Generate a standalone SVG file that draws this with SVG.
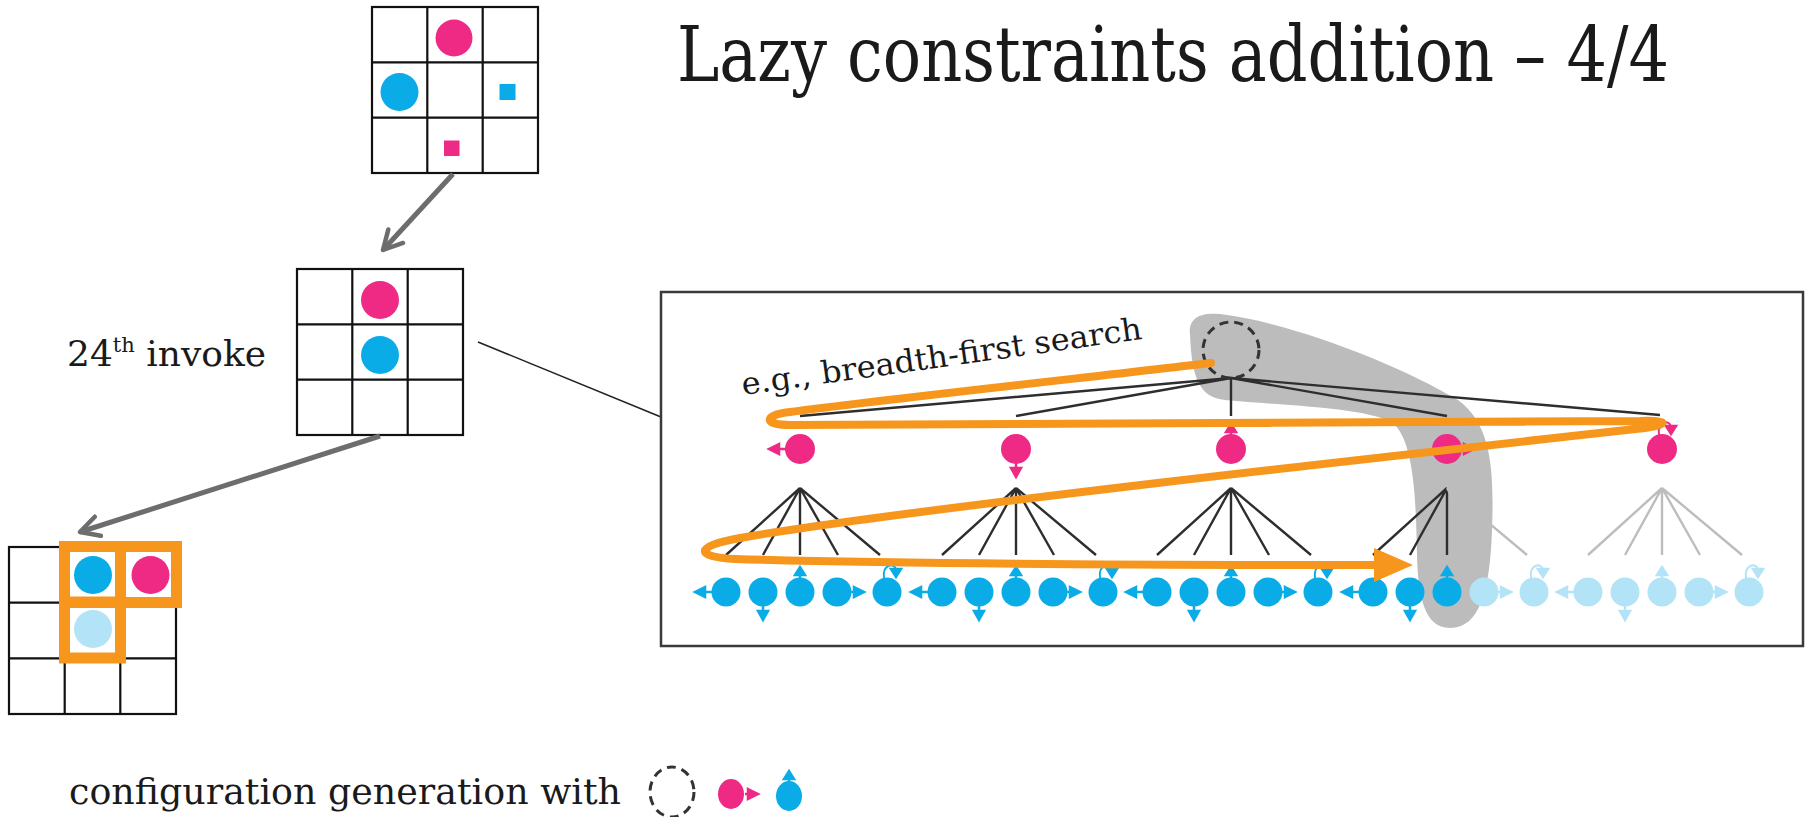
<svg xmlns="http://www.w3.org/2000/svg" xmlns:xlink="http://www.w3.org/1999/xlink" width="1807" height="817" viewBox="0 0 1807 817">
<style>
.txt{font-family:"DejaVu Serif","Liberation Serif",serif;fill:#1a1a1a}
.ttl{font-family:"DejaVu Serif Condensed","DejaVu Serif","Liberation Serif",serif;fill:#1a1a1a}
.grid{fill:none;stroke:#111;stroke-width:2.2}
.pk{fill:#ee2a84}
.bl{fill:#0aace8}
.lb{fill:#b3e3f6}
.pka{fill:#ee2a84;stroke:#ee2a84;stroke-width:2.5}
.bla{fill:#0aace8;stroke:#0aace8;stroke-width:2.5}
.lba{fill:#b3e3f6;stroke:#b3e3f6;stroke-width:2.5}
.edge{stroke:#2e2e2e;stroke-width:2.4;fill:none}
.edgel{stroke:#bdbdbd;stroke-width:2.4;fill:none}
.dash{fill:none;stroke:#333;stroke-width:3;stroke-dasharray:9 6}
.orng{fill:none;stroke:#f7961c;stroke-width:8;stroke-linecap:round;stroke-linejoin:round}
.sel{fill:none;stroke:#f7961c;stroke-width:11}
.garrow{stroke:#6d6d6d;stroke-width:5;fill:none;marker-end:url(#chev)}
</style>
<defs>
<marker id="chev" viewBox="0 0 10 10" refX="8.5" refY="5" markerWidth="5" markerHeight="5" orient="auto" markerUnits="strokeWidth">
<path d="M1 1L8.5 5L1 9" fill="none" stroke="#6d6d6d" stroke-width="1.8" stroke-linecap="round" stroke-linejoin="round"/>
</marker>
<g id="aL"><path d="M-14 0H-22"/><path d="M-21 -5L-31 0L-21 5Z"/></g>
<g id="aD"><path d="M0 14V20"/><path d="M-5 19L5 19L0 28Z"/></g>
<g id="aU"><path d="M0 -14V-17"/><path d="M-5 -17L5 -17L0 -25Z"/></g>
<g id="aR"><path d="M14 0H18"/><path d="M17 -5L27 0L17 5Z"/></g>
<g id="aO"><path d="M-3 -14C-5 -28 8 -30 9 -22" fill="none" stroke-width="2"/><path d="M4 -23L14 -23L9 -15Z"/></g>
</defs>
<rect width="1807" height="817" fill="#fff"/>

<g id="title"><text class="ttl" x="677" y="81" font-size="76" textLength="992" lengthAdjust="spacingAndGlyphs">Lazy constraints addition – 4/4</text></g>

<g id="grid1">
<rect class="grid" x="372" y="7" width="166" height="166"/>
<path class="grid" d="M427.3 7V173M482.7 7V173M372 62.3H538M372 117.7H538"/>
<circle class="pk" cx="454" cy="38" r="18.5"/>
<circle class="bl" cx="399.5" cy="92" r="19"/>
<rect class="bl" x="499.5" y="84" width="16" height="16"/>
<rect class="pk" x="444" y="140.5" width="15.5" height="15.5"/>
</g>

<g id="grid2">
<rect class="grid" x="297" y="269" width="166" height="166"/>
<path class="grid" d="M352.3 269V435M407.7 269V435M297 324.3H463M297 379.7H463"/>
<circle class="pk" cx="380" cy="300" r="19"/>
<circle class="bl" cx="380" cy="355" r="19"/>
</g>
<g id="label24"><text class="txt" x="67" y="366" font-size="36">24<tspan font-size="21" dy="-14">th</tspan><tspan dy="14"> invoke</tspan></text></g>

<g id="grid3">
<rect class="grid" x="9" y="547" width="167" height="167"/>
<path class="grid" d="M64.7 547V714M120.3 547V714M9 602.7H176M9 658.3H176"/>
<rect class="sel" x="64.5" y="546.5" width="56" height="56"/>
<rect class="sel" x="120.5" y="546.5" width="56" height="56"/>
<rect class="sel" x="64.5" y="602" width="56" height="56"/>
<circle class="bl" cx="93" cy="575" r="19"/>
<circle class="pk" cx="150.5" cy="575" r="19"/>
<circle class="lb" cx="93" cy="629" r="19"/>
</g>

<g id="connectors">
<path class="garrow" d="M453 174L383 250"/>
<path class="garrow" d="M380 436L80 532"/>
<path d="M478 342L661 417" stroke="#222" stroke-width="1.5" fill="none"/>
</g>

<g id="searchbox">
<rect x="661" y="292" width="1142" height="354" fill="none" stroke="#3a3a3a" stroke-width="2.5"/>
<path id="highlight" d="M1190 335C1188 318 1200 312 1220 314C1290 322 1400 365 1458 400C1492 425 1494 470 1492 530C1490 590 1480 628 1450 628C1424 628 1418 595 1417 555C1416 500 1414 445 1395 425C1375 408 1290 406 1225 400C1200 397 1192 380 1190 335Z" fill="#bcbcbc"/>
<g id="tree-edges">
<path class="edge" d="M1231 378L800 416M1231 378L1016 416M1231 378L1231 416M1231 378L1447 416M1231 378L1660 415"/>
<path class="edge" d="M800 488L726 555M800 488L763 555M800 488L800 555M800 488L838 555M800 488L880 555"/>
<path class="edge" d="M1016 488L942 555M1016 488L979 555M1016 488L1016 555M1016 488L1054 555M1016 488L1096 555"/>
<path class="edge" d="M1231 488L1157 555M1231 488L1194 555M1231 488L1231 555M1231 488L1269 555M1231 488L1311 555"/>
<path class="edge" d="M1447 488L1373 555M1447 488L1410 555M1447 488L1447 555"/>
<path class="edgel" d="M1447 488L1485 555M1447 488L1527 555"/>
<path class="edgel" d="M1662 488L1588 555M1662 488L1625 555M1662 488L1662 555M1662 488L1700 555M1662 488L1742 555"/>
</g>
<g id="root"><circle class="dash" cx="1231" cy="350" r="28"/></g>
<g id="p1"><circle class="pk" cx="800" cy="449" r="15"/><use href="#aL" x="800" y="449" class="pka"/></g>
<g id="p2"><circle class="pk" cx="1016" cy="449" r="15"/><use href="#aD" x="1016" y="449" class="pka"/></g>
<g id="p3"><circle class="pk" cx="1231" cy="449" r="15"/><use href="#aU" x="1231" y="449" class="pka"/></g>
<g id="p4"><circle class="pk" cx="1447" cy="449" r="15"/><use href="#aR" x="1447" y="449" class="pka"/></g>
<g id="p5"><circle class="pk" cx="1662" cy="449" r="15"/><use href="#aO" x="1662" y="449" class="pka"/></g>

<g id="b1"><circle class="bl" cx="726" cy="592" r="14.5"/><use href="#aL" x="726" y="592" class="bla"/></g>
<g id="b2"><circle class="bl" cx="763" cy="592" r="14.5"/><use href="#aD" x="763" y="592" class="bla"/></g>
<g id="b3"><circle class="bl" cx="800" cy="592" r="14.5"/><use href="#aU" x="800" y="592" class="bla"/></g>
<g id="b4"><circle class="bl" cx="837" cy="592" r="14.5"/><use href="#aR" x="837" y="592" class="bla"/></g>
<g id="b5"><circle class="bl" cx="887" cy="592" r="14.5"/><use href="#aO" x="887" y="592" class="bla"/></g>
<g id="b6"><circle class="bl" cx="942" cy="592" r="14.5"/><use href="#aL" x="942" y="592" class="bla"/></g>
<g id="b7"><circle class="bl" cx="979" cy="592" r="14.5"/><use href="#aD" x="979" y="592" class="bla"/></g>
<g id="b8"><circle class="bl" cx="1016" cy="592" r="14.5"/><use href="#aU" x="1016" y="592" class="bla"/></g>
<g id="b9"><circle class="bl" cx="1053" cy="592" r="14.5"/><use href="#aR" x="1053" y="592" class="bla"/></g>
<g id="b10"><circle class="bl" cx="1103" cy="592" r="14.5"/><use href="#aO" x="1103" y="592" class="bla"/></g>
<g id="b11"><circle class="bl" cx="1157" cy="592" r="14.5"/><use href="#aL" x="1157" y="592" class="bla"/></g>
<g id="b12"><circle class="bl" cx="1194" cy="592" r="14.5"/><use href="#aD" x="1194" y="592" class="bla"/></g>
<g id="b13"><circle class="bl" cx="1231" cy="592" r="14.5"/><use href="#aU" x="1231" y="592" class="bla"/></g>
<g id="b14"><circle class="bl" cx="1268" cy="592" r="14.5"/><use href="#aR" x="1268" y="592" class="bla"/></g>
<g id="b15"><circle class="bl" cx="1318" cy="592" r="14.5"/><use href="#aO" x="1318" y="592" class="bla"/></g>
<g id="b16"><circle class="bl" cx="1373" cy="592" r="14.5"/><use href="#aL" x="1373" y="592" class="bla"/></g>
<g id="b17"><circle class="bl" cx="1410" cy="592" r="14.5"/><use href="#aD" x="1410" y="592" class="bla"/></g>
<g id="b18"><circle class="bl" cx="1447" cy="592" r="14.5"/><use href="#aU" x="1447" y="592" class="bla"/></g>
<g id="b19"><circle class="lb" cx="1484" cy="592" r="14.5"/><use href="#aR" x="1484" y="592" class="lba"/></g>
<g id="b20"><circle class="lb" cx="1534" cy="592" r="14.5"/><use href="#aO" x="1534" y="592" class="lba"/></g>
<g id="b21"><circle class="lb" cx="1588" cy="592" r="14.5"/><use href="#aL" x="1588" y="592" class="lba"/></g>
<g id="b22"><circle class="lb" cx="1625" cy="592" r="14.5"/><use href="#aD" x="1625" y="592" class="lba"/></g>
<g id="b23"><circle class="lb" cx="1662" cy="592" r="14.5"/><use href="#aU" x="1662" y="592" class="lba"/></g>
<g id="b24"><circle class="lb" cx="1699" cy="592" r="14.5"/><use href="#aR" x="1699" y="592" class="lba"/></g>
<g id="b25"><circle class="lb" cx="1749" cy="592" r="14.5"/><use href="#aO" x="1749" y="592" class="lba"/></g>

<g id="bfs-path">
<path class="orng" d="M1211 363C1100 376 880 400 790 412C763 415 763 425 790 425L1640 421C1668 420 1670 424 1645 428C1400 455 900 510 740 538C694 546 694 557 735 559C900 564 1200 565 1376 565"/>
<path d="M1374 548L1413 565L1374 582Z" fill="#f7961c"/>
</g>
<g id="bfs-label"><text class="txt" x="743" y="395" font-size="31" transform="rotate(-8 743 395)" textLength="404" lengthAdjust="spacingAndGlyphs">e.g., breadth-first search</text></g>
</g>

<g id="legend">
<text class="txt" x="69" y="804" font-size="35" textLength="552" lengthAdjust="spacingAndGlyphs">configuration generation with</text>
<ellipse class="dash" cx="672" cy="792" rx="22" ry="25"/>
<ellipse class="pk" cx="731" cy="794" rx="13" ry="15"/>
<use href="#aR" x="731" y="794" class="pka"/>
<ellipse class="bl" cx="789" cy="796" rx="13" ry="15"/>
<use href="#aU" x="789" y="796" class="bla"/>
</g>
</svg>
